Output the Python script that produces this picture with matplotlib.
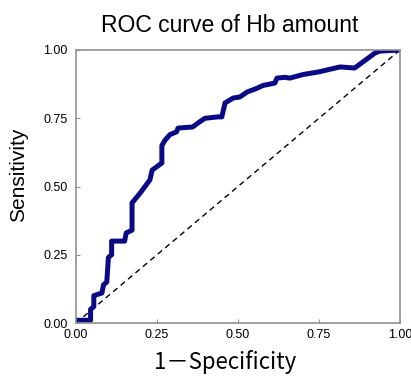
import matplotlib
matplotlib.use("Agg")
import matplotlib.pyplot as plt

# ROC points (1-specificity, sensitivity)
fpr = [0.0, 0.045, 0.045, 0.055, 0.055, 0.08, 0.085, 0.095, 0.10, 0.11, 0.11,
       0.15, 0.155, 0.173, 0.173, 0.198, 0.228, 0.235, 0.265, 0.265, 0.275,
       0.29, 0.31, 0.315, 0.36, 0.377, 0.398, 0.438, 0.45, 0.46, 0.485, 0.506,
       0.528, 0.559, 0.577, 0.614, 0.62, 0.645, 0.66, 0.70, 0.75, 0.815, 0.86,
       0.923, 0.938, 1.0]
tpr = [0.01, 0.01, 0.05, 0.06, 0.10, 0.11, 0.14, 0.15, 0.24, 0.25, 0.30,
       0.30, 0.33, 0.34, 0.44, 0.476, 0.524, 0.56, 0.586, 0.65, 0.67,
       0.69, 0.70, 0.714, 0.718, 0.733, 0.75, 0.755, 0.755, 0.806, 0.824, 0.828,
       0.846, 0.86, 0.87, 0.879, 0.897, 0.90, 0.897, 0.91, 0.92, 0.938, 0.934,
       0.989, 0.996, 1.0]
ticks = [0.0, 0.25, 0.5, 0.75, 1.0]
tick_labels = ["0.00", "0.25", "0.50", "0.75", "1.00"]

plt.rcParams['font.family'] = ['Noto Sans CJK JP', 'DejaVu Sans']

fig = plt.figure(figsize=(4.11, 3.79), dpi=100)
ax = fig.add_axes([76 / 411, 56 / 379, 324 / 411, 273 / 379])

ax.plot([0, 1], [0, 1], linestyle=(0, (4, 3)), color="black", lw=1.0)
ax.plot(fpr, tpr, color="#0a0a85", lw=3.6, solid_joinstyle="round",
        solid_capstyle="round")

ax.set_xlim(0, 1)
ax.set_ylim(0, 1)
ax.set_xticks(ticks)
ax.set_yticks(ticks)
ax.set_xticklabels(tick_labels, fontsize=9, family="Liberation Sans")
ax.set_yticklabels(tick_labels, fontsize=9, family="Liberation Sans")
ax.tick_params(direction="in", length=3, color="#909090")
ax.tick_params(axis="x", pad=4)
ax.tick_params(axis="y", pad=6)
for sp in ax.spines.values():
    sp.set_color("#909090")
    sp.set_linewidth(1.2)

ax.set_title("ROC curve of Hb amount", fontsize=16.5, x=0.475, pad=13,
             family="Liberation Sans")
ax.set_xlabel("1－Specificity", fontsize=16, x=0.46, labelpad=7)
ax.set_ylabel("Sensitivity", fontsize=15, y=0.542, labelpad=11,
              family="Liberation Sans")

fig.savefig("out.png", dpi=100)
